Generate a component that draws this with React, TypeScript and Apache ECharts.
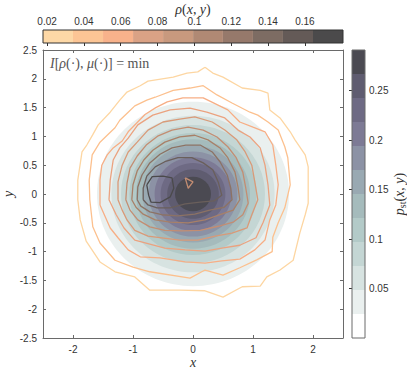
import React, { useEffect, useRef } from 'react';
import * as echarts from 'echarts';

// ---- axis ticks ----
const xTicks = [-2, -1, 0, 1, 2];
const rhoTicks = [0.02, 0.04, 0.06, 0.08, 0.1, 0.12, 0.14, 0.16];
const pstTicks = [0.05, 0.1, 0.15, 0.2, 0.25];

// ---- colour bars ----
const rhoLevels = [0.0178, 0.0341, 0.0504, 0.0667, 0.083, 0.0993, 0.1155, 0.1318, 0.1481, 0.1644, 0.1807];
const rhoColors = ['#fdd8a6', '#fcc595', '#f8b28b', '#daa285', '#c8997e', '#b08974', '#96796b', '#7d6c63', '#645a57', '#4b4a4b'];
const rhoLineColors = ['#fdd6a2', '#fcc08e', '#f7ae85', '#eba27f', '#d99a78', '#c38d72', '#a88068', '#8c7264', '#6a5f5b', '#4b4a4b'];
const pstLevels = [0, 0.02425, 0.0485, 0.07275, 0.097, 0.12125, 0.1455, 0.16975, 0.194, 0.21825, 0.2425, 0.26675, 0.291];
const pstColors = ['#ffffff', '#eaf0ef', '#d7e3e1', '#c4d6d4', '#b3cac8', '#a5bbbc', '#99a9b2', '#8c92a5', '#7d7a95', '#6e6a84', '#5f5c70', '#4b4a52'];

// ---- filled contours of p_st (centre and radius of each level) ----
const fillCenter = [0, 0];
const fillRadii = [1.6, 1.36, 1.2, 1.06, 0.95, 0.84, 0.74, 0.64, 0.54, 0.43, 0.3];

// ---- contour lines of rho ----
const rhoContour1 = [[0.2, 2.2], [0.33, 2.1], [0.5, 2.03], [0.82, 1.84], [1.12, 1.8], [1.25, 1.75], [1.28, 1.46], [1.45, 1.32], [1.62, 1.08], [1.7, 0.94], [1.87, 0.68], [1.92, 0.47], [1.92, -0.16], [1.87, -0.36], [1.78, -0.68], [1.67, -1.15], [1.45, -1.32], [1.23, -1.44], [1.12, -1.6], [0.82, -1.61], [0.5, -1.79], [0.2, -1.68], [-0.22, -1.67], [-0.72, -1.67], [-0.97, -1.44], [-1.3, -1.35], [-1.55, -1.18], [-1.78, -0.82], [-1.88, -0.45], [-1.92, -0.1], [-1.92, 0.24], [-1.85, 0.73], [-1.77, 0.85], [-1.67, 1.03], [-1.58, 1.2], [-1.38, 1.42], [-1.22, 1.63], [-1.1, 1.77], [-0.88, 1.88], [-0.75, 1.96], [-0.33, 2.03], [-0.1, 2.1], [0.08, 2.12]];
const rhoContour2 = [[-1.72, -0.1], [-1.73, 0.24], [-1.68, 0.68], [-1.55, 0.9], [-1.43, 1.02], [-1.3, 1.15], [-1.22, 1.28], [-1.08, 1.42], [-0.97, 1.53], [-0.77, 1.63], [-0.63, 1.68], [-0.33, 1.8], [-0.05, 1.84], [0.17, 1.88], [0.4, 1.72], [0.65, 1.58], [0.95, 1.42], [1.08, 1.37], [1.25, 1.25], [1.42, 1.11], [1.53, 0.82], [1.58, 0.63], [1.62, 0.16], [1.53, -0.24], [1.42, -0.5], [1.33, -0.75], [1.32, -1.0], [1.07, -1.14], [0.78, -1.28], [0.5, -1.41], [0.2, -1.32], [-0.05, -1.46], [-0.72, -1.35], [-1.0, -1.27], [-1.3, -1.15], [-1.55, -0.85], [-1.67, -0.57]];
const rhoContour3 = [[-1.55, -0.19], [-1.55, 0.24], [-1.52, 0.5], [-1.43, 0.68], [-1.33, 0.8], [-1.18, 0.92], [-1.08, 1.08], [-0.95, 1.22], [-0.8, 1.38], [-0.62, 1.5], [-0.43, 1.6], [-0.17, 1.67], [0.17, 1.67], [0.58, 1.46], [0.78, 1.25], [1.0, 1.16], [1.2, 1.08], [1.33, 0.85], [1.38, 0.5], [1.42, 0.16], [1.38, -0.19], [1.28, -0.45], [1.2, -0.8], [1.03, -0.97], [0.78, -1.13], [0.48, -1.16], [0.2, -1.2], [-0.13, -1.18], [-0.55, -1.11], [-0.88, -1.09], [-1.08, -0.97], [-1.25, -0.76], [-1.38, -0.59]];
const rhoContour4 = [[-1.4, -0.1], [-1.38, 0.24], [-1.33, 0.59], [-1.22, 0.8], [-1.08, 0.97], [-0.92, 1.2], [-0.67, 1.37], [-0.38, 1.46], [-0.05, 1.49], [0.23, 1.42], [0.53, 1.32], [0.75, 1.11], [0.95, 0.99], [1.12, 0.8], [1.2, 0.5], [1.25, 0.16], [1.28, -0.19], [1.17, -0.49], [1.05, -0.76], [0.78, -0.89], [0.48, -0.94], [0.2, -0.99], [-0.13, -0.97], [-0.47, -0.94], [-0.72, -0.87], [-0.97, -0.8], [-1.15, -0.59], [-1.28, -0.36]];
const rhoContour5 = [[-1.25, -0.1], [-1.25, 0.21], [-1.18, 0.5], [-1.08, 0.73], [-0.93, 0.9], [-0.75, 1.11], [-0.5, 1.25], [-0.22, 1.3], [0.03, 1.34], [0.32, 1.25], [0.53, 1.11], [0.73, 0.94], [0.87, 0.73], [0.98, 0.5], [1.03, 0.21], [1.08, -0.1], [0.98, -0.36], [0.9, -0.59], [0.65, -0.68], [0.37, -0.73], [0.08, -0.8], [-0.22, -0.8], [-0.52, -0.76], [-0.75, -0.73], [-0.97, -0.63], [-1.1, -0.45], [-1.18, -0.28]];
const rhoContour6 = [[-1.12, -0.1], [-1.1, 0.19], [-1.05, 0.45], [-0.93, 0.66], [-0.78, 0.85], [-0.58, 1.01], [-0.35, 1.11], [-0.08, 1.16], [0.17, 1.11], [0.4, 0.99], [0.58, 0.82], [0.72, 0.63], [0.83, 0.38], [0.88, 0.1], [0.92, -0.16], [0.83, -0.36], [0.67, -0.49], [0.42, -0.56], [0.12, -0.63], [-0.18, -0.64], [-0.47, -0.63], [-0.72, -0.57], [-0.92, -0.45], [-1.05, -0.28]];
const rhoContour7 = [[-1.02, -0.1], [-1.0, 0.16], [-0.93, 0.4], [-0.82, 0.59], [-0.67, 0.76], [-0.47, 0.9], [-0.22, 0.99], [0.03, 1.02], [0.25, 0.94], [0.45, 0.8], [0.58, 0.63], [0.7, 0.38], [0.75, 0.12], [0.78, -0.1], [0.67, -0.28], [0.45, -0.36], [0.2, -0.45], [-0.08, -0.5], [-0.38, -0.49], [-0.63, -0.45], [-0.83, -0.35], [-0.95, -0.23]];
const rhoContour8 = [[-0.93, -0.1], [-0.92, 0.12], [-0.85, 0.33], [-0.72, 0.54], [-0.55, 0.69], [-0.35, 0.8], [-0.12, 0.85], [0.12, 0.85], [0.32, 0.73], [0.45, 0.56], [0.57, 0.33], [0.63, 0.1], [0.65, -0.1], [0.52, -0.23], [0.28, -0.28], [0.03, -0.35], [-0.25, -0.38], [-0.52, -0.36], [-0.72, -0.31], [-0.87, -0.21]];
const rhoContour9 = [[-0.83, -0.1], [-0.83, 0.1], [-0.77, 0.31], [-0.63, 0.47], [-0.47, 0.56], [-0.25, 0.63], [-0.02, 0.63], [0.17, 0.54], [0.33, 0.42], [0.42, 0.21], [0.48, -0.02], [0.35, -0.12], [0.12, -0.14], [-0.13, -0.17], [-0.38, -0.24], [-0.6, -0.24], [-0.75, -0.19]];
const rhoContour10 = [[-0.77, 0.16], [-0.68, 0.3], [-0.5, 0.31], [-0.35, 0.28], [-0.32, 0.1], [-0.38, -0.05], [-0.55, -0.15], [-0.7, -0.14], [-0.74, -0.02]];
const rhoDip = [[-0.13, 0.28], [0.0, 0.21], [-0.08, 0.1]];

const rhoContours = [rhoContour1, rhoContour2, rhoContour3, rhoContour4, rhoContour5, rhoContour6, rhoContour7, rhoContour8, rhoContour9, rhoContour10];

const SANS = '"Liberation Sans", Arial, Helvetica, sans-serif';
const SERIF = '"Liberation Serif", "Times New Roman", "DejaVu Serif", serif';
const AXIS = '#6a6a6a';
const TXT = '#333333';

export default function App() {
  const ref = useRef<HTMLDivElement>(null);
  useEffect(() => {
    const chart = echarts.init(ref.current!, null, { renderer: 'svg' });
    const tickStyle = { color: AXIS, width: 1 };
    const labelStyle = { color: TXT, fontSize: 10, fontFamily: SANS };
    const italic = { fontFamily: SERIF, fontStyle: 'italic', fontSize: 14, color: TXT };
    const upright = { fontFamily: SERIF, fontSize: 14, color: TXT };

    const lineSeries: any[] = rhoContours.map((pts, i) => ({
      type: 'line',
      xAxisIndex: 0,
      yAxisIndex: 0,
      data: [...pts, pts[0]],
      symbol: 'none',
      silent: true,
      z: 3,
      lineStyle: { color: rhoLineColors[i], width: 1.3 },
    }));
    lineSeries.push({
      type: 'line',
      xAxisIndex: 0,
      yAxisIndex: 0,
      data: [...rhoDip, rhoDip[0]],
      symbol: 'none',
      silent: true,
      z: 3,
      lineStyle: { color: rhoLineColors[5], width: 1.3 },
    });

    const gridBase = { containLabel: false, outerBoundsMode: 'none' };
    const option: any = {
      animation: false,
      backgroundColor: '#ffffff',
      grid: [
        { ...gridBase, left: 43, top: 50, width: 300, height: 288 },
        { ...gridBase, left: 43, top: 30, width: 300, height: 13 },
        { ...gridBase, left: 352, top: 50, width: 13, height: 288 },
      ],
      xAxis: [
        {
          gridIndex: 0, type: 'value', min: -2.5, max: 2.5, position: 'bottom',
          axisLine: { show: true, onZero: false, lineStyle: tickStyle },
          axisTick: { show: true, inside: true, length: 3, customValues: xTicks, lineStyle: tickStyle },
          axisLabel: { show: true, customValues: xTicks, margin: 6, ...labelStyle },
          splitLine: { show: false },
          name: 'x', nameLocation: 'middle', nameGap: 18, nameMoveOverlap: false,
          nameTextStyle: { ...italic, lineHeight: 12 },
        },
        {
          gridIndex: 0, type: 'value', min: -2.5, max: 2.5, position: 'top',
          axisLine: { show: true, onZero: false, lineStyle: tickStyle },
          axisTick: { show: true, inside: true, length: 3, customValues: xTicks, lineStyle: tickStyle },
          axisLabel: { show: false },
          splitLine: { show: false },
        },
        {
          gridIndex: 1, type: 'value', min: rhoLevels[0], max: rhoLevels[rhoLevels.length - 1], position: 'top',
          axisLine: { show: false },
          axisTick: { show: true, inside: true, length: 3, customValues: rhoTicks, lineStyle: { color: TXT } },
          axisLabel: { show: true, customValues: rhoTicks, margin: 4, ...labelStyle },
          splitLine: { show: false },
          name: '{i|ρ}{n|(}{i|x}{n|, }{i|y}{n|)}', nameLocation: 'middle', nameGap: 14, nameMoveOverlap: false,
          nameTextStyle: { rich: { i: { ...italic, lineHeight: 14 }, n: { ...upright, lineHeight: 14 } } },
        },
        { gridIndex: 2, type: 'value', min: 0, max: 1, show: false },
      ],
      yAxis: [
        {
          gridIndex: 0, type: 'value', min: -2.5, max: 2.5, interval: 0.5, position: 'left',
          axisLine: { show: true, onZero: false, lineStyle: tickStyle },
          axisTick: { show: true, inside: true, length: 3, lineStyle: tickStyle },
          axisLabel: { show: true, margin: 6, ...labelStyle },
          splitLine: { show: false },
          name: 'y', nameLocation: 'middle', nameGap: 29, nameRotate: 90, nameMoveOverlap: false,
          nameTextStyle: { ...italic, lineHeight: 12 },
        },
        {
          gridIndex: 0, type: 'value', min: -2.5, max: 2.5, interval: 0.5, position: 'right',
          axisLine: { show: true, onZero: false, lineStyle: tickStyle },
          axisTick: { show: true, inside: true, length: 3, lineStyle: tickStyle },
          axisLabel: { show: false },
          splitLine: { show: false },
        },
        { gridIndex: 1, type: 'value', min: 0, max: 1, show: false },
        {
          gridIndex: 2, type: 'value', min: 0, max: pstLevels[pstLevels.length - 1], position: 'right',
          axisLine: { show: false },
          axisTick: { show: true, inside: true, length: 3, customValues: pstTicks, lineStyle: { color: TXT } },
          axisLabel: { show: true, customValues: pstTicks, margin: 4, ...labelStyle },
          splitLine: { show: false },
          name: '{i|p}{s|st}{n|(}{i|x}{n|, }{i|y}{n|)}', nameLocation: 'middle', nameGap: 24, nameRotate: 90,
          nameTextStyle: {
            rich: {
              i: italic,
              n: upright,
              s: { fontFamily: SERIF, fontSize: 10, color: TXT, verticalAlign: 'bottom', padding: [6, 0, 0, 0] },
            },
          },
        },
      ],
      graphic: [
        {
          type: 'text', left: 50, top: 56, silent: true,
          style: {
            text: '{i|I}{n|[}{i|ρ}{n|(·), }{i|μ}{n|(·)] = min}',
            rich: {
              i: { fontFamily: SERIF, fontStyle: 'italic', fontSize: 14, fill: '#555555' },
              n: { fontFamily: SERIF, fontSize: 14, fill: '#555555' },
            },
          },
        },
      ],
      series: [
        {
          type: 'custom', xAxisIndex: 0, yAxisIndex: 0, silent: true, z: 1,
          data: fillRadii.map((r, i) => [fillCenter[0], fillCenter[1], r, i + 1]),
          renderItem: (_p: any, api: any) => {
            const c = api.coord([api.value(0), api.value(1)]);
            const s = api.size([api.value(2), api.value(2)]);
            return {
              type: 'ellipse',
              shape: { cx: c[0], cy: c[1], rx: s[0], ry: s[1] },
              style: { fill: pstColors[api.value(3)], stroke: null },
            };
          },
        },
        ...lineSeries,
        {
          type: 'custom', xAxisIndex: 2, yAxisIndex: 2, silent: true, z: 2,
          data: rhoColors.map((_c, i) => [rhoLevels[i], rhoLevels[i + 1], i]),
          renderItem: (_p: any, api: any) => {
            const a = api.coord([api.value(0), 1]);
            const b = api.coord([api.value(1), 0]);
            return {
              type: 'rect',
              shape: { x: a[0], y: a[1], width: b[0] - a[0], height: b[1] - a[1] },
              style: { fill: rhoColors[api.value(2)], stroke: null },
            };
          },
        },
        {
          type: 'custom', xAxisIndex: 2, yAxisIndex: 2, silent: true, z: 4,
          data: [[rhoLevels[0], rhoLevels[rhoLevels.length - 1]]],
          renderItem: (_p: any, api: any) => {
            const a = api.coord([api.value(0), 1]);
            const b = api.coord([api.value(1), 0]);
            return {
              type: 'rect',
              shape: { x: a[0], y: a[1], width: b[0] - a[0], height: b[1] - a[1] },
              style: { fill: 'none', stroke: '#333333', lineWidth: 1 },
            };
          },
        },
        {
          type: 'custom', xAxisIndex: 3, yAxisIndex: 3, silent: true, z: 2,
          data: pstColors.map((_c, i) => [pstLevels[i], pstLevels[i + 1], i]),
          renderItem: (_p: any, api: any) => {
            const a = api.coord([0, api.value(1)]);
            const b = api.coord([1, api.value(0)]);
            return {
              type: 'rect',
              shape: { x: a[0], y: a[1], width: b[0] - a[0], height: b[1] - a[1] },
              style: { fill: pstColors[api.value(2)], stroke: null },
            };
          },
        },
        {
          type: 'custom', xAxisIndex: 3, yAxisIndex: 3, silent: true, z: 4,
          data: [[pstLevels[0], pstLevels[pstLevels.length - 1]]],
          renderItem: (_p: any, api: any) => {
            const a = api.coord([0, api.value(1)]);
            const b = api.coord([1, api.value(0)]);
            return {
              type: 'rect',
              shape: { x: a[0], y: a[1], width: b[0] - a[0], height: b[1] - a[1] },
              style: { fill: 'none', stroke: AXIS, lineWidth: 1 },
            };
          },
        },
      ],
    };
    chart.setOption(option);
    return () => chart.dispose();
  }, []);
  return <div ref={ref} style={{ position: 'fixed', left: 0, top: 0, width: 407, height: 371 }} />;
}
